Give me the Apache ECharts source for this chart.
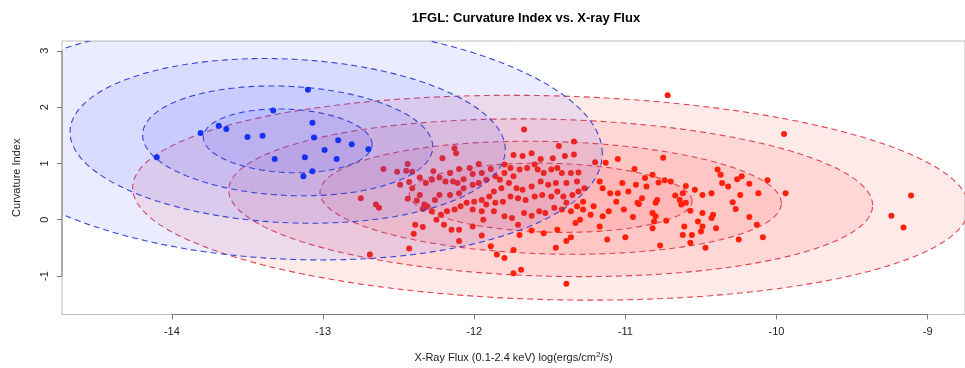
<!DOCTYPE html>
<html>
<head>
<meta charset="utf-8">
<script src="https://cdn.jsdelivr.net/npm/echarts@6/dist/echarts.min.js"></script>
<style>
  html, body { margin: 0; padding: 0; background: #ffffff; }
  #chart { width: 965px; height: 368px; }
</style>
</head>
<body>
<div id="chart"></div>
<script>
// Axis ticks and visible ranges
const xTicks = [-14, -13, -12, -11, -10, -9];
const yTicks = [-1, 0, 1, 2, 3];
const xRange = [-14.727, -8.753];
const yRange = [-1.684, 3.174];

// Blue sample: log X-ray flux and curvature index
const blueX = [-13.10, -13.33, -13.69, -13.64, -13.81, -13.50, -13.40, -13.07, -13.06, -12.90,
               -12.81, -12.70, -12.99, -12.91, -13.12, -13.32, -13.07, -13.13, -14.10];
const blueY = [2.31, 1.94, 1.67, 1.61, 1.54, 1.47, 1.49, 1.72, 1.46, 1.41,
               1.34, 1.25, 1.24, 1.08, 1.11, 1.08, 0.86, 0.77, 1.11];

// Red sample: log X-ray flux and curvature index
const redX = [
  -12.60, -12.51, -12.45, -12.44, -12.41, -12.21, -12.13, -12.12, -12.27, -12.16,
  -12.10, -12.03, -11.97, -11.89, -11.95, -12.01, -12.07, -12.11, -12.14, -12.19,
  -12.23, -12.28, -12.32, -12.36, -12.43, -12.49, -12.41, -12.36, -12.44, -12.38,
  -12.33, -12.34, -12.26, -12.23, -12.16, -12.10, -12.07, -12.01, -11.97, -11.92,
  -11.86, -11.83, -11.80, -11.74, -11.70, -11.65, -11.60, -11.58, -11.54, -11.49,
  -11.45, -11.42, -11.36, -11.31, -11.39, -11.32, -11.46, -11.51, -11.56, -11.62,
  -11.68, -11.72, -11.77, -11.82, -11.87, -11.90, -11.95, -12.00, -12.05, -12.09,
  -12.13, -12.18, -12.22, -12.25, -12.28, -12.31, -12.01, -11.95, -11.92, -11.86,
  -11.81, -11.76, -11.71, -11.66, -11.60, -11.55, -11.49, -11.45, -11.41, -11.35,
  -11.31, -11.27, -11.80, -11.75, -11.71, -11.67, -11.62, -11.57, -11.53, -11.47,
  -11.42, -11.36, -11.39, -11.32, -11.87, -11.94, -12.01, -12.10, -12.15, -12.20,
  -12.39, -12.34, -12.40, -12.43, -12.10, -11.95, -11.89, -11.85, -11.80, -11.74,
  -11.70, -11.62, -11.54, -11.45, -11.36, -11.39, -11.46, -11.74, -11.69, -11.39,
  -11.34, -11.44, -11.34, -11.40, -11.48, -11.56, -11.62, -11.68, -11.74, -11.80,
  -11.76, -11.20, -11.13, -11.05, -10.94, -11.17, -11.15, -11.10, -11.05, -11.02,
  -10.98, -10.93, -10.87, -10.92, -10.95, -11.01, -11.06, -11.11, -11.15, -11.17,
  -11.23, -11.28, -11.30, -11.33, -11.28, -11.21, -11.12, -11.00, -11.67, -12.75,
  -12.65, -12.63, -12.69, -10.72, -9.95, -10.75, -10.82, -10.78, -10.74, -10.70,
  -10.79, -10.80, -10.82, -10.80, -10.81, -10.82, -10.73, -10.67, -10.64, -10.63,
  -10.60, -10.62, -10.60, -10.57, -10.54, -10.49, -10.49, -10.52, -10.49, -10.50,
  -10.56, -10.61, -10.62, -10.57, -10.47, -10.77, -10.43, -10.39, -10.37, -10.36,
  -10.32, -10.29, -10.27, -10.26, -10.23, -10.24, -10.18, -10.18, -10.42, -10.43,
  -10.40, -10.25, -10.13, -10.09, -10.12, -10.06, -9.94, -9.24, -9.16, -9.11,
  -10.86, -10.89, -10.91
];
const redY = [
  0.90, 0.85, 0.87, 0.99, 0.85, 1.09, 1.27, 1.18, 0.86, 0.83,
  0.90, 0.92, 0.99, 0.90, 0.83, 0.81, 0.72, 0.65, 0.68, 0.68,
  0.75, 0.71, 0.65, 0.75, 0.67, 0.62, 0.56, 0.44, 0.37, 0.34,
  0.27, 0.19, 0.35, 0.44, 0.44, 0.47, 0.56, 0.62, 0.65, 0.71,
  0.77, 0.71, 0.83, 0.77, 0.89, 0.92, 0.98, 0.89, 0.83, 0.89,
  0.92, 0.83, 0.83, 0.84, 0.65, 0.68, 0.65, 0.62, 0.68, 0.59,
  0.53, 0.56, 0.65, 0.56, 0.50, 0.41, 0.35, 0.32, 0.30, 0.24,
  0.18, 0.15, 0.09, 0.00, 0.15, 0.24, 0.18, 0.15, 0.27, 0.30,
  0.32, 0.41, 0.38, 0.35, 0.41, 0.44, 0.41, 0.50, 0.41, 0.44,
  0.50, 0.56, 0.06, 0.03, -0.09, 0.12, 0.07, 0.15, 0.12, 0.21,
  0.18, 0.15, 0.30, 0.24, 0.15, 0.00, -0.12, -0.18, -0.18, -0.09,
  -0.09, -0.13, -0.25, -0.51, -0.38, -0.28, -0.47, -0.62, -0.68, -0.54,
  -0.27, -0.19, -0.24, -0.18, -0.31, -0.38, -0.50, -0.95, -0.89, -1.14,
  1.39, 1.31, 1.16, 1.13, 1.09, 1.08, 1.18, 1.13, 1.15, 0.98,
  0.92, 1.02, 1.01, 1.08, 0.90, 0.68, 0.56, 0.47, 0.47, 0.65,
  0.50, 0.62, 0.74, 0.30, 0.05, 0.18, 0.32, 0.15, 0.06, -0.12,
  0.09, 0.18, 0.00, -0.06, 0.32, 0.24, -0.35, -0.31, 1.60, 0.38,
  0.27, 0.21, -0.62, 2.21, 1.52, 1.10, 0.80, 0.66, 0.70, 0.68,
  0.35, 0.30, 0.12, 0.06, -0.03, -0.15, -0.02, 0.43, 0.35, 0.27,
  0.60, 0.47, 0.30, 0.16, 0.53, 0.44, 0.12, -0.03, -0.12, -0.21,
  -0.27, -0.12, -0.27, -0.41, -0.50, -0.46, 0.47, 0.89, 0.80, 0.65,
  0.59, 0.31, 0.19, 0.72, 0.77, 0.44, 0.64, 0.05, 0.09, 0.03,
  -0.15, -0.35, -0.09, -0.31, 0.47, 0.70, 0.47, 0.07, -0.14, 0.43,
  0.59, 0.38, 0.28
];

// Confidence ellipses: centre, unit-level standard deviations, correlation, level multipliers
const blueCentre = [-13.234, 1.40];
const blueSd = [0.558, 0.567];
const blueRho = -0.107;
const blueLevels = [3.73, 2.58, 1.72, 1];

const redCentre = [-11.494, 0.39];
const redSd = [0.935, 0.615];
const redRho = -0.096;
const redLevels = [2.958, 2.278, 1.632, 1];

const FONT = '"Liberation Sans", Arial, Helvetica, sans-serif';

function ellipseSeries(name, centre, sd, rho, levels, fill, stroke, z) {
  const s = Math.sqrt(1 - rho * rho);
  return {
    type: 'custom',
    name: name,
    z: z,
    clip: true,
    silent: true,
    data: levels.map(function (k) { return [k]; }),
    renderItem: function (params, api) {
      const k = api.value(0);
      const pts = [];
      const n = 240;
      for (let i = 0; i < n; i++) {
        const t = 2 * Math.PI * i / n;
        const c = Math.cos(t), sn = Math.sin(t);
        pts.push(api.coord([
          centre[0] + k * sd[0] * c,
          centre[1] + k * sd[1] * (rho * c + s * sn)
        ]));
      }
      return {
        type: 'polygon',
        shape: { points: pts },
        style: { fill: fill, stroke: stroke, lineWidth: 1.1, lineDash: [6, 4] }
      };
    }
  };
}

const chart = echarts.init(document.getElementById('chart'), null, { renderer: 'canvas' });

chart.setOption({
  animation: false,
  backgroundColor: '#ffffff',
  title: {
    text: '1FGL: Curvature Index vs. X-ray Flux',
    left: 521,
    textAlign: 'center',
    top: 7,
    textStyle: { fontFamily: FONT, fontSize: 13, fontWeight: 'bold', color: '#000' }
  },
  grid: {
    left: 62, right: -17, top: 41, bottom: 53,
    show: true, borderColor: '#bdbdbd', borderWidth: 1, backgroundColor: 'transparent'
  },
  xAxis: {
    type: 'value',
    min: xRange[0], max: xRange[1],
    axisLine: { show: false, onZero: false },
    splitLine: { show: false },
    axisTick: { show: true, customValues: xTicks, length: 5, lineStyle: { color: '#7a7a7a' } },
    axisLabel: { customValues: xTicks, fontFamily: FONT, fontSize: 11, color: '#222', margin: 12 },
    name: '{a|X-Ray Flux (0.1-2.4 keV) log(ergs/cm}{s|2}{a|/s)}',
    nameLocation: 'middle',
    nameGap: 36,
    nameTextStyle: {
      rich: {
        a: { fontFamily: FONT, fontSize: 11, color: '#222' },
        s: { fontFamily: FONT, fontSize: 8, color: '#222', verticalAlign: 'top', padding: [0, 0, 6, 0] }
      }
    }
  },
  yAxis: {
    type: 'value',
    min: yRange[0], max: yRange[1],
    axisLine: { show: false, onZero: false },
    splitLine: { show: false },
    axisTick: { show: true, customValues: yTicks, length: 5, lineStyle: { color: '#7a7a7a' } },
    axisLabel: { customValues: yTicks, fontFamily: FONT, fontSize: 11, color: '#222', margin: 12, rotate: 90 },
    name: 'Curvature Index',
    nameLocation: 'middle',
    nameGap: 40,
    nameRotate: 90,
    nameTextStyle: { fontFamily: FONT, fontSize: 11, color: '#222' }
  },
  series: [
    ellipseSeries('redEllipses', redCentre, redSd, redRho, redLevels,
      'rgba(255, 60, 60, 0.11)', '#de4650', 1),
    {
      type: 'scatter', name: 'red', z: 2,
      symbol: 'circle', symbolSize: 6,
      itemStyle: { color: '#ff1f0a', opacity: 1 },
      data: redX.map(function (x, i) { return [x, redY[i]]; })
    },
    ellipseSeries('blueEllipses', blueCentre, blueSd, blueRho, blueLevels,
      'rgba(70, 80, 255, 0.11)', '#3845d6', 3),
    {
      type: 'scatter', name: 'blue', z: 4,
      symbol: 'circle', symbolSize: 6,
      itemStyle: { color: '#1432f0', opacity: 1 },
      data: blueX.map(function (x, i) { return [x, blueY[i]]; })
    },
    {
      // axis line along the bottom, spanning the first to last tick
      type: 'line', z: 5, silent: true, clip: false, symbol: 'none',
      lineStyle: { color: '#7a7a7a', width: 1 },
      data: [[xTicks[0], yRange[0]], [xTicks[xTicks.length - 1], yRange[0]]]
    },
    {
      // axis line along the left side, spanning the first to last tick
      type: 'line', z: 5, silent: true, clip: false, symbol: 'none',
      lineStyle: { color: '#7a7a7a', width: 1 },
      data: [[xRange[0], yTicks[0]], [xRange[0], yTicks[yTicks.length - 1]]]
    }
  ]
});
</script>
</body>
</html>
